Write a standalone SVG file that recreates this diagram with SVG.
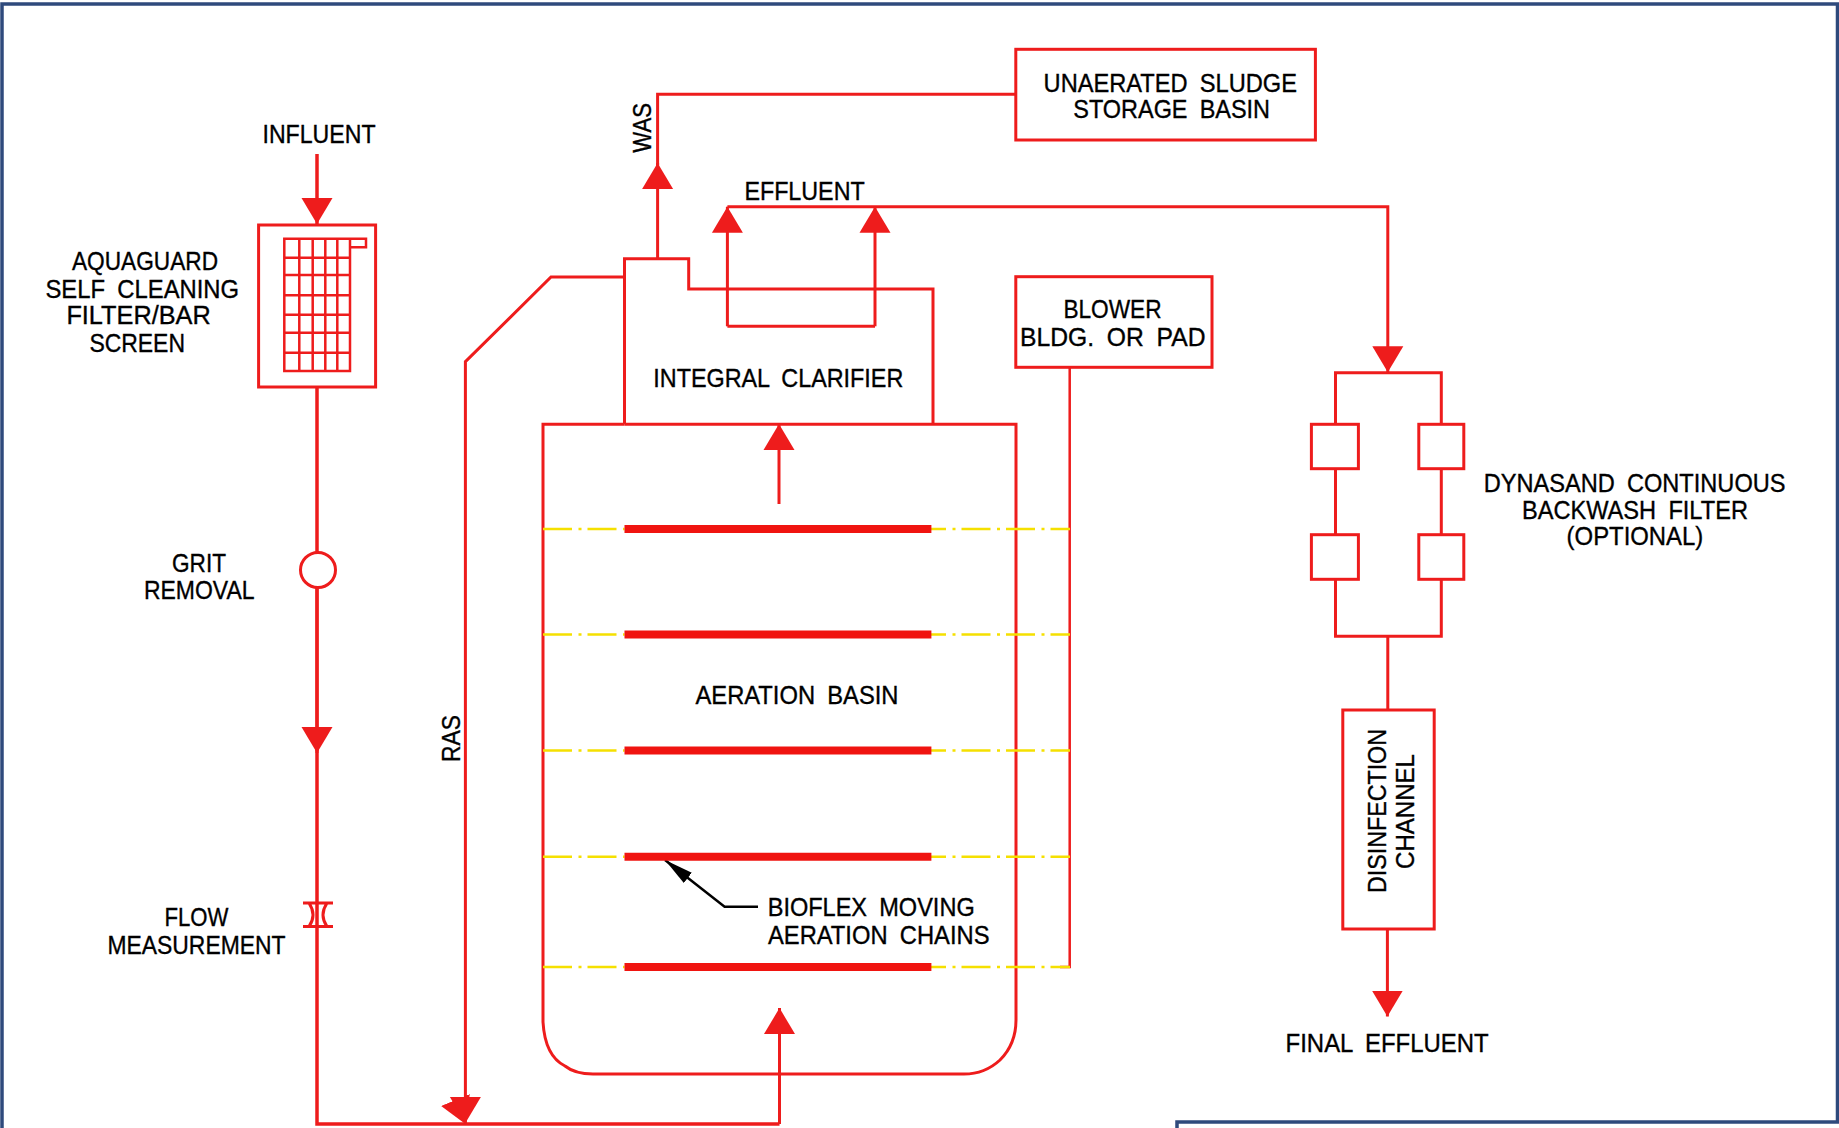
<svg xmlns="http://www.w3.org/2000/svg" width="1839" height="1128" viewBox="0 0 1839 1128">
<style>
.r{fill:none;stroke:#ee1c1c;stroke-width:3;stroke-linejoin:miter}
.m{stroke-width:3.5}
.f{fill:#fff}
.g{fill:none;stroke:#ee1c1c;stroke-width:2.5}
.bar{stroke:#f01410;stroke-width:8}
.y{fill:none;stroke:#f5e000;stroke-width:2.5;stroke-dasharray:29 6.5 3 6}
.fr{fill:none;stroke:#2f4a7c;stroke-width:3.5}
text{font-family:"Liberation Sans",Arial,sans-serif;font-size:25px;fill:#000;stroke:#000;stroke-width:.35;word-spacing:6px}
.a{marker-end:url(#ah)}
</style>
<defs>
<marker id="ah" markerUnits="userSpaceOnUse" markerWidth="27" markerHeight="32" viewBox="0 0 27 32" refX="26" refY="16" orient="auto"><path d="M0 .5L26 16L0 31.5z" fill="#ee1c1c"/></marker>
<marker id="bk" markerUnits="userSpaceOnUse" markerWidth="30" markerHeight="16" viewBox="0 0 30 16" refX="29" refY="8" orient="auto"><path d="M0 1.5L29 8L0 14.5z" fill="#000"/></marker>
</defs>
<rect width="1839" height="1128" fill="#fff"/>
<path class="fr" d="M1837.5 1122V4H2V1128M1177 1128V1122H1839"/>
<g id="connectors">
<path class="r m a" d="M317 154V224"/>
<path class="r m" d="M317 387V1124H779.5"/>
<path class="r a" d="M317 570V753"/>
<path class="r m a" d="M465.4 1124"/>
<path class="r a" d="M624.5 277H551L465.4 361.7V1123"/>
<path class="r a" d="M779.5 1124V1008"/>
<path class="r a" d="M779 504V424"/>
<path class="r a" d="M657.6 258.7V163"/>
<path class="r" d="M657.6 165V94.3H1015.8"/>
<path class="r a" d="M727.4 326.3V206.7"/>
<path class="r a" d="M875 326.3V206.7"/>
<path class="r" d="M727.4 326.3H875"/>
<path class="r a" d="M727.4 206.7H1387.8V372.3"/>
<path class="r" d="M1335.5 424V372.7H1441.3V424M1335.5 469V535M1441.3 469V535M1335.5 579V636.3H1441.3V579M1387.8 636.3V710"/>
<path class="r a" d="M1387.4 929V1016.5"/>
<path class="g" d="M1069.7 367V967H1060"/>
<path fill="none" stroke="#000" stroke-width="2.5" marker-end="url(#bk)" d="M758 906.7H724.6L665 860"/>
</g>
<g id="influent"><text x="262.5" y="142.7" textLength="113" lengthAdjust="spacingAndGlyphs">INFLUENT</text></g>
<g id="aquaguard">
<rect class="r" x="258.6" y="225" width="117" height="162"/>
<path class="g" d="M284.3 238.7H350V371H284.3zM299.3 238.7V371M312.7 238.7V371M325.3 238.7V371M337.3 238.7V371M284.3 257.7H350M284.3 275H350M284.3 295.3H350M284.3 314.7H350M284.3 332.7H350M284.3 352.7H350M350 238.7H366V247.3H350"/>
<text x="72" y="270" textLength="146" lengthAdjust="spacingAndGlyphs">AQUAGUARD</text>
<text x="45.5" y="297.7" textLength="193.5" lengthAdjust="spacingAndGlyphs">SELF CLEANING</text>
<text x="66.4" y="324" textLength="144.3" lengthAdjust="spacingAndGlyphs">FILTER/BAR</text>
<text x="89.4" y="351.7" textLength="95.6" lengthAdjust="spacingAndGlyphs">SCREEN</text>
</g>
<g id="grit">
<circle class="r f" cx="318" cy="570" r="17.5"/>
<text x="172" y="572" textLength="54" lengthAdjust="spacingAndGlyphs">GRIT</text>
<text x="144" y="599" textLength="110.5" lengthAdjust="spacingAndGlyphs">REMOVAL</text>
</g>
<g id="flow">
<path class="r f" d="M303 903H333M303 926.5H333M309 903Q317 915 309 926.5M327 903Q319 915 327 926.5"/>
<text x="164.5" y="926" textLength="64" lengthAdjust="spacingAndGlyphs">FLOW</text>
<text x="107.5" y="954" textLength="178" lengthAdjust="spacingAndGlyphs">MEASUREMENT</text>
</g>
<g id="ras"><text transform="translate(460 762) rotate(-90)" textLength="47" lengthAdjust="spacingAndGlyphs">RAS</text></g>
<g id="aeration-basin">
<path class="r" d="M624.5 424.3H543V1022Q545 1056 565 1066Q575 1074 593 1074H964Q985 1074 1000 1060Q1016 1044 1016 1020V424.3H933"/>
<path class="r" d="M624.5 424.3V258.7H688.7V289H933V424.3M624.5 424.3H933"/>
<path class="y" d="M543 529H624.5M543 634.5H624.5M543 750.5H624.5M543 856.7H624.5M543 967H624.5"/>
<path class="y" style="stroke-dashoffset:14" d="M931 529H1070M931 634.5H1070M931 750.5H1070M931 856.7H1070M931 967H1070"/>
<path class="bar" d="M624.5 529H931.4M624.5 634.5H931.4M624.5 750.5H931.4M624.5 856.7H931.4M624.5 967H931.4"/>
<text x="695.5" y="703.6" textLength="203" lengthAdjust="spacingAndGlyphs">AERATION BASIN</text>
<text x="767.7" y="916" textLength="207" lengthAdjust="spacingAndGlyphs">BIOFLEX MOVING</text>
<text x="768" y="943.7" textLength="221.5" lengthAdjust="spacingAndGlyphs">AERATION CHAINS</text>
</g>
<g id="clarifier"><text x="653.3" y="386.7" textLength="250" lengthAdjust="spacingAndGlyphs">INTEGRAL CLARIFIER</text></g>
<g id="was"><text transform="translate(651 152.7) rotate(-90)" textLength="49.7" lengthAdjust="spacingAndGlyphs">WAS</text></g>
<g id="sludge-basin">
<rect class="r" x="1015.8" y="49.3" width="299.6" height="90.7"/>
<text x="1043.6" y="91.7" textLength="253.4" lengthAdjust="spacingAndGlyphs">UNAERATED SLUDGE</text>
<text x="1073.3" y="118.3" textLength="196.7" lengthAdjust="spacingAndGlyphs">STORAGE BASIN</text>
</g>
<g id="effluent"><text x="744.4" y="200" textLength="120.3" lengthAdjust="spacingAndGlyphs">EFFLUENT</text></g>
<g id="blower">
<rect class="r" x="1015.8" y="276.7" width="196.2" height="90.6"/>
<text x="1063.4" y="318.3" textLength="98.2" lengthAdjust="spacingAndGlyphs">BLOWER</text>
<text x="1020" y="345.7" textLength="185.5" lengthAdjust="spacingAndGlyphs">BLDG. OR PAD</text>
</g>
<g id="dynasand">
<rect class="r" x="1311.4" y="424.3" width="47" height="44.4"/>
<rect class="r" x="1418.8" y="424.3" width="45" height="44.4"/>
<rect class="r" x="1311.4" y="534.7" width="47" height="44.6"/>
<rect class="r" x="1418.8" y="534.7" width="45" height="44.6"/>
<text x="1483.7" y="491.7" textLength="301.8" lengthAdjust="spacingAndGlyphs">DYNASAND CONTINUOUS</text>
<text x="1521.9" y="519.3" textLength="226.1" lengthAdjust="spacingAndGlyphs">BACKWASH FILTER</text>
<text x="1566.6" y="545" textLength="136.7" lengthAdjust="spacingAndGlyphs">(OPTIONAL)</text>
</g>
<g id="disinfection">
<rect class="r" x="1342.8" y="710" width="91.4" height="219"/>
<text transform="translate(1386 893) rotate(-90)" textLength="164" lengthAdjust="spacingAndGlyphs">DISINFECTION</text>
<text transform="translate(1414 869) rotate(-90)" textLength="115" lengthAdjust="spacingAndGlyphs">CHANNEL</text>
</g>
<g id="final-effluent"><text x="1285.6" y="1052.3" textLength="203" lengthAdjust="spacingAndGlyphs">FINAL EFFLUENT</text></g>
</svg>
